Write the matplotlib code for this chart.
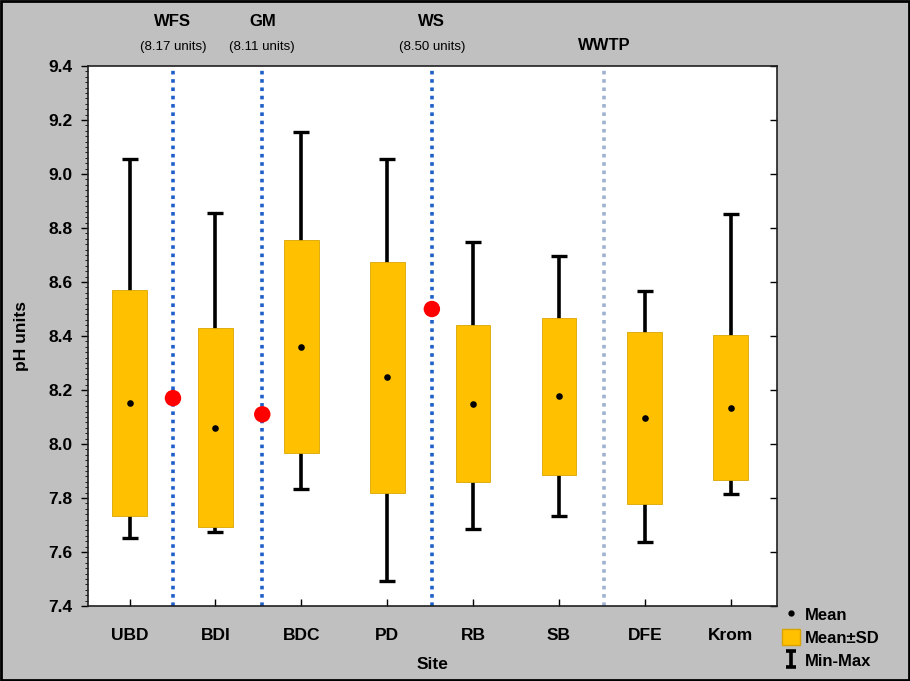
import numpy as np
import matplotlib.pyplot as plt
from matplotlib.lines import Line2D
from matplotlib.patches import Patch, Rectangle
from matplotlib.path import Path
from matplotlib.ticker import MultipleLocator

plt.rcParams['font.family'] = ['Liberation Sans', 'DejaVu Sans']

sites = ['UBD', 'BDI', 'BDC', 'PD', 'RB', 'SB', 'DFE', 'Krom']
means = [8.153, 8.060, 8.360, 8.247, 8.150, 8.177, 8.097, 8.135]
sds = [0.418, 0.369, 0.394, 0.428, 0.292, 0.291, 0.319, 0.268]
mins = [7.653, 7.674, 7.834, 7.494, 7.684, 7.734, 7.636, 7.814]
maxs = [9.056, 8.856, 9.157, 9.056, 8.747, 8.696, 8.567, 8.852]

# reference sources placed between sites
ref_names = ['WFS', 'GM', 'WS']
ref_values = [8.17, 8.11, 8.50]
ref_pos = [0.505, 1.545, 3.52]
wwtp_pos = 5.525

box_col = '#FFC000'
line_blue = '#1F5FC8'

fig = plt.figure(figsize=(9.1, 6.81), dpi=100)
fig.patch.set_facecolor('#c0c0c0')
ax = fig.add_axes([0.0962, 0.1101, 0.7577, 0.793])
ax.set_facecolor('white')

x = np.arange(len(sites))
means = np.array(means)
sds = np.array(sds)
mins = np.array(mins)
maxs = np.array(maxs)

# dotted separators
for p in ref_pos:
    ax.axvline(p, color=line_blue, lw=2.6, linestyle=(0, (1, 1.3)), zorder=1)
ax.axvline(wwtp_pos, color='#9fb2cf', lw=2.6, linestyle=(0, (1, 1.3)), zorder=1)

# min-max whiskers
ax.errorbar(x, means, yerr=[means - mins, maxs - means], fmt='none',
            ecolor='black', elinewidth=2.6, capsize=6, capthick=2.4, zorder=2)
# mean +/- sd boxes
ax.bar(x, 2 * sds, bottom=means - sds, width=0.404, color=box_col,
       edgecolor='#d9a400', linewidth=0.6, zorder=3)
ax.scatter(x, means, s=14, color='black', zorder=4)

# reference values
ax.scatter(ref_pos, ref_values, s=140, color='#ff0000', edgecolors='none',
           zorder=5, clip_on=False)

ax.set_xlim(-0.49, 7.54)
ax.set_ylim(7.4, 9.4)
ax.set_xticks(x)
ax.set_xticklabels(sites, fontsize=12.5, fontweight='bold')
ax.yaxis.set_minor_locator(MultipleLocator(0.02))
yt = np.arange(7.4, 9.41, 0.2)
ax.set_yticks(yt)
ax.set_yticklabels(['%.1f' % v for v in yt], fontsize=12.5, fontweight='bold')
ax.tick_params(axis='y', which='major', direction='out', length=5, width=1,
               pad=6)
ax.tick_params(axis='y', which='minor', direction='out', length=2.5,
               width=0.6)
ax.tick_params(axis='x', direction='in', length=5, width=1, pad=16)
for s in ax.spines.values():
    s.set_color('#202020')
    s.set_linewidth(1.2)

# inward ticks on the right side
rax = ax.secondary_yaxis('right')
rax.set_yticks(yt)
rax.tick_params(direction='in', length=5, width=1, labelright=False)
rax.spines['right'].set_visible(False)

ax.set_xlabel('Site', fontsize=12.5, fontweight='bold', labelpad=10)
ax.set_ylabel('pH units', fontsize=12.5, fontweight='bold', labelpad=14)

# labels above the plot
for name, val, p in zip(ref_names, ref_values, ref_pos):
    ax.annotate(name, xy=(p, 1), xycoords=('data', 'axes fraction'),
                xytext=(0, 32), textcoords='offset points', ha='center',
                va='center', fontsize=12, fontweight='bold')
    ax.annotate('(%.2f units)' % val, xy=(p, 1),
                xycoords=('data', 'axes fraction'), xytext=(0, 14),
                textcoords='offset points', ha='center', va='center',
                fontsize=9.5)
ax.annotate('WWTP', xy=(wwtp_pos, 1), xycoords=('data', 'axes fraction'),
            xytext=(0, 15), textcoords='offset points', ha='center',
            va='center', fontsize=12, fontweight='bold')

ibeam = Path([(-0.6, 1), (0.6, 1), (0, 1), (0, -1), (-0.6, -1), (0.6, -1)],
             [Path.MOVETO, Path.LINETO, Path.MOVETO, Path.LINETO,
              Path.MOVETO, Path.LINETO])
handles = [
    Line2D([], [], color='black', marker='o', markersize=3.5, linestyle='None'),
    Patch(facecolor=box_col, edgecolor='#d9a400'),
    Line2D([], [], color='black', marker=ibeam, markersize=11,
           markeredgewidth=2.6, linestyle='None'),
]
fig.legend(handles, ['Mean', 'Mean±SD', 'Min-Max'], loc='upper left',
           bbox_to_anchor=(0.852, 0.12), frameon=False,
           prop={'size': 12, 'weight': 'bold'}, handlelength=1.1,
           handleheight=1.1, handletextpad=0.3, labelspacing=0.4,
           borderaxespad=0)

fig.add_artist(Rectangle((0.001, 0.001), 0.998, 0.997,
                         transform=fig.transFigure, fill=False,
                         edgecolor='black', linewidth=2))

fig.savefig('out.png', dpi=100, facecolor=fig.get_facecolor())
